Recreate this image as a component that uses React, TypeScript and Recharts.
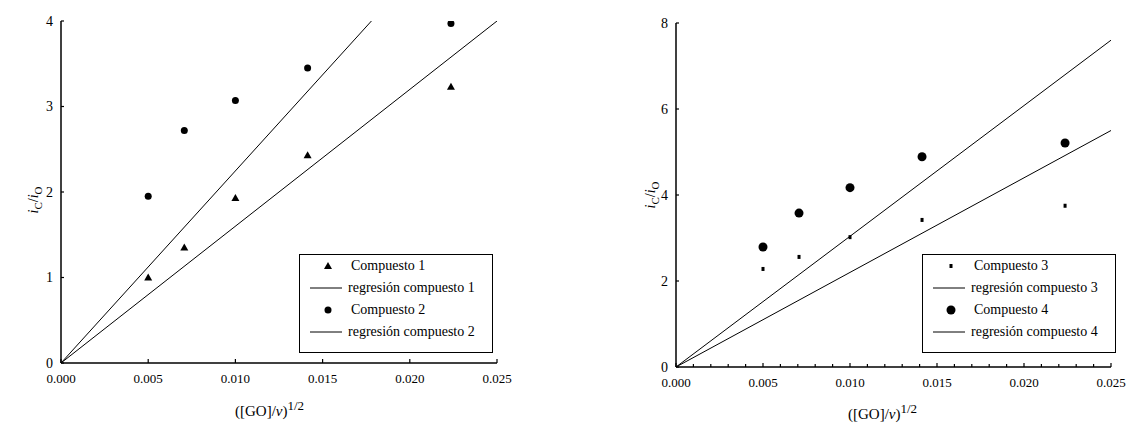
import React from "react";
import { ScatterChart, Scatter, XAxis, YAxis, Legend } from "recharts";

const SERIF = '"Liberation Serif", "Times New Roman", serif';

// ([GO]/v)^1/2 values shared by every series
const goRoot = [0.005, 0.00707, 0.01, 0.01414, 0.02236];

const compuesto1 = [1.0, 1.35, 1.93, 2.43, 3.23];
const compuesto2 = [1.95, 2.72, 3.07, 3.45, 3.97];
const compuesto3 = [2.28, 2.56, 3.02, 3.42, 3.75];
const compuesto4 = [2.79, 3.58, 4.17, 4.89, 5.21];

// regression lines through the origin (end points)
const regresion1 = [{ x: 0, y: 0 }, { x: 0.025, y: 4.0 }];
const regresion2 = [{ x: 0, y: 0 }, { x: 0.0178, y: 4.0 }];
const regresion3 = [{ x: 0, y: 0 }, { x: 0.025, y: 5.5 }];
const regresion4 = [{ x: 0, y: 0 }, { x: 0.025, y: 7.6 }];

const xMajorTicks = [0, 0.005, 0.01, 0.015, 0.02, 0.025];
const xMinorTicks = [
  0, 0.001, 0.002, 0.003, 0.004, 0.005, 0.006, 0.007, 0.008, 0.009, 0.01, 0.011, 0.012,
  0.013, 0.014, 0.015, 0.016, 0.017, 0.018, 0.019, 0.02, 0.021, 0.022, 0.023, 0.024, 0.025,
];
const leftYTicks = [0, 1, 2, 3, 4];
const rightYTicks = [0, 2, 4, 6, 8];

const leftLegend = [
  { label: "Compuesto 1", mark: "triangle" },
  { label: "regresión compuesto 1", mark: "line" },
  { label: "Compuesto 2", mark: "dot" },
  { label: "regresión compuesto 2", mark: "line" },
];
const rightLegend = [
  { label: "Compuesto 3", mark: "square" },
  { label: "regresión compuesto 3", mark: "line" },
  { label: "Compuesto 4", mark: "bigDot" },
  { label: "regresión compuesto 4", mark: "line" },
];

const toPoints = (ys: number[]) => goRoot.map((x, i) => ({ x, y: ys[i] }));

const isMajor = (v: number) => xMajorTicks.some((t) => Math.abs(t - v) < 1e-9);

function XTick(props: any) {
  const { x, y, payload } = props;
  const major = isMajor(payload.value);
  return (
    <g>
      <line x1={x} x2={x} y1={y} y2={y - (major ? 4 : 3)} stroke="#000" strokeWidth={1.2} />
      {major && (
        <text x={x} y={y + 20} textAnchor="middle" fontFamily={SERIF} fontSize={13} fill="#000">
          {payload.value.toFixed(3)}
        </text>
      )}
    </g>
  );
}

function YTick(props: any) {
  const { x, y, payload } = props;
  return (
    <g>
      <line x1={x} x2={x + 3} y1={y} y2={y} stroke="#000" strokeWidth={1.2} />
      <text x={x - 8} y={y} dy="0.35em" textAnchor="end" fontFamily={SERIF} fontSize={14} fill="#000">
        {payload.value}
      </text>
    </g>
  );
}

const Triangle = (p: any) => (
  <path d={`M${p.cx},${p.cy - 4} L${p.cx + 4},${p.cy + 3} L${p.cx - 4},${p.cy + 3} Z`} fill="#000" />
);
const Dot = (p: any) => <circle cx={p.cx} cy={p.cy} r={3.5} fill="#000" />;
const BigDot = (p: any) => <circle cx={p.cx} cy={p.cy} r={4.5} fill="#000" />;
const Square = (p: any) => <rect x={p.cx - 1.5} y={p.cy - 2} width={3} height={4} fill="#000" />;
const NoMark = () => <g />;

function LegendMark({ mark }: { mark: string }) {
  if (mark === "line") return <line x1={10} x2={42} y1={11} y2={11} stroke="#000" strokeWidth={1} />;
  if (mark === "triangle") return <Triangle cx={28} cy={11} />;
  if (mark === "dot") return <Dot cx={28} cy={11} />;
  if (mark === "bigDot") return <BigDot cx={28} cy={11} />;
  return <Square cx={28} cy={11} />;
}

function LegendBox({ entries }: { entries: { label: string; mark: string }[] }) {
  return (
    <div
      style={{
        width: 194,
        height: 99,
        boxSizing: "border-box",
        border: "1.5px solid #000",
        background: "#fff",
        fontFamily: SERIF,
        fontSize: 14,
        color: "#000",
      }}
    >
      {entries.map((e) => (
        <div key={e.label} style={{ height: 22, display: "flex", alignItems: "center", whiteSpace: "nowrap" }}>
          <svg width={48} height={22} style={{ flex: "none" }}>
            <LegendMark mark={e.mark} />
          </svg>
          <span style={{ marginLeft: e.mark === "line" ? 0 : 3 }}>{e.label}</span>
        </div>
      ))}
    </div>
  );
}

const axisLine = { stroke: "#000", strokeWidth: 1.5 };

function XTitle({ left, top }: { left: number; top: number }) {
  return (
    <div style={{ position: "absolute", left, top, fontFamily: SERIF, fontSize: 15, color: "#000", whiteSpace: "nowrap" }}>
      ([GO]/<i>v</i>)<sup style={{ fontSize: 13 }}>1/2</sup>
    </div>
  );
}

function YTitle({ cx, cy }: { cx: number; cy: number }) {
  return (
    <div
      style={{
        position: "absolute",
        left: cx,
        top: cy,
        transform: "translate(-50%, -50%) rotate(-90deg)",
        fontFamily: SERIF,
        fontSize: 14,
        color: "#000",
        whiteSpace: "nowrap",
      }}
    >
      <i>i</i>
      <sub style={{ fontSize: 11 }}>C</sub>/<i>i</i>
      <sub style={{ fontSize: 11 }}>O</sub>
    </div>
  );
}

export default function App() {
  return (
    <div style={{ position: "absolute", left: 0, top: 0, width: 1127, height: 435, background: "#fff", overflow: "hidden" }}>
      <div style={{ position: "absolute", left: 0, top: 0 }}>
        <ScatterChart width={540} height={435} margin={{ top: 21, right: 43, bottom: 42, left: 0 }}>
          <XAxis
            type="number"
            dataKey="x"
            domain={[0, 0.025]}
            ticks={xMajorTicks}
            interval={0}
            tick={<XTick />}
            tickLine={false}
            tickSize={0}
            tickMargin={0}
            axisLine={axisLine}
            height={30}
            allowDataOverflow
          />
          <YAxis
            type="number"
            dataKey="y"
            domain={[0, 4]}
            ticks={leftYTicks}
            interval={0}
            tick={<YTick />}
            tickLine={false}
            tickSize={0}
            tickMargin={0}
            axisLine={axisLine}
            width={61}
            allowDataOverflow
          />
          <Scatter data={regresion1} line={{ stroke: "#000", strokeWidth: 1 }} shape={NoMark} isAnimationActive={false} />
          <Scatter data={regresion2} line={{ stroke: "#000", strokeWidth: 1 }} shape={NoMark} isAnimationActive={false} />
          <Scatter data={toPoints(compuesto1)} shape={Triangle} isAnimationActive={false} />
          <Scatter data={toPoints(compuesto2)} shape={Dot} isAnimationActive={false} />
          <Legend
            layout="horizontal"
            verticalAlign="middle"
            align="center"
            wrapperStyle={{ left: 299, top: 254, width: 194, height: 99 }}
            content={() => <LegendBox entries={leftLegend} />}
          />
        </ScatterChart>
      </div>
      <YTitle cx={35} cy={200} />
      <XTitle left={235} top={398} />

      <div style={{ position: "absolute", left: 570, top: 0 }}>
        <ScatterChart width={557} height={435} margin={{ top: 23, right: 16, bottom: 38, left: 46 }}>
          <XAxis
            type="number"
            dataKey="x"
            domain={[0, 0.025]}
            ticks={xMinorTicks}
            interval={0}
            tick={<XTick />}
            tickLine={false}
            tickSize={0}
            tickMargin={0}
            axisLine={axisLine}
            height={30}
            allowDataOverflow
          />
          <YAxis
            type="number"
            dataKey="y"
            domain={[0, 8]}
            ticks={rightYTicks}
            interval={0}
            tick={<YTick />}
            tickLine={false}
            tickSize={0}
            tickMargin={0}
            axisLine={axisLine}
            width={60}
            allowDataOverflow
          />
          <Scatter data={regresion3} line={{ stroke: "#000", strokeWidth: 1 }} shape={NoMark} isAnimationActive={false} />
          <Scatter data={regresion4} line={{ stroke: "#000", strokeWidth: 1 }} shape={NoMark} isAnimationActive={false} />
          <Scatter data={toPoints(compuesto3)} shape={Square} isAnimationActive={false} />
          <Scatter data={toPoints(compuesto4)} shape={BigDot} isAnimationActive={false} />
          <Legend
            layout="horizontal"
            verticalAlign="middle"
            align="center"
            wrapperStyle={{ left: 352, top: 254, width: 194, height: 99 }}
            content={() => <LegendBox entries={rightLegend} />}
          />
        </ScatterChart>
      </div>
      <YTitle cx={652} cy={195} />
      <XTitle left={848} top={401} />
    </div>
  );
}
